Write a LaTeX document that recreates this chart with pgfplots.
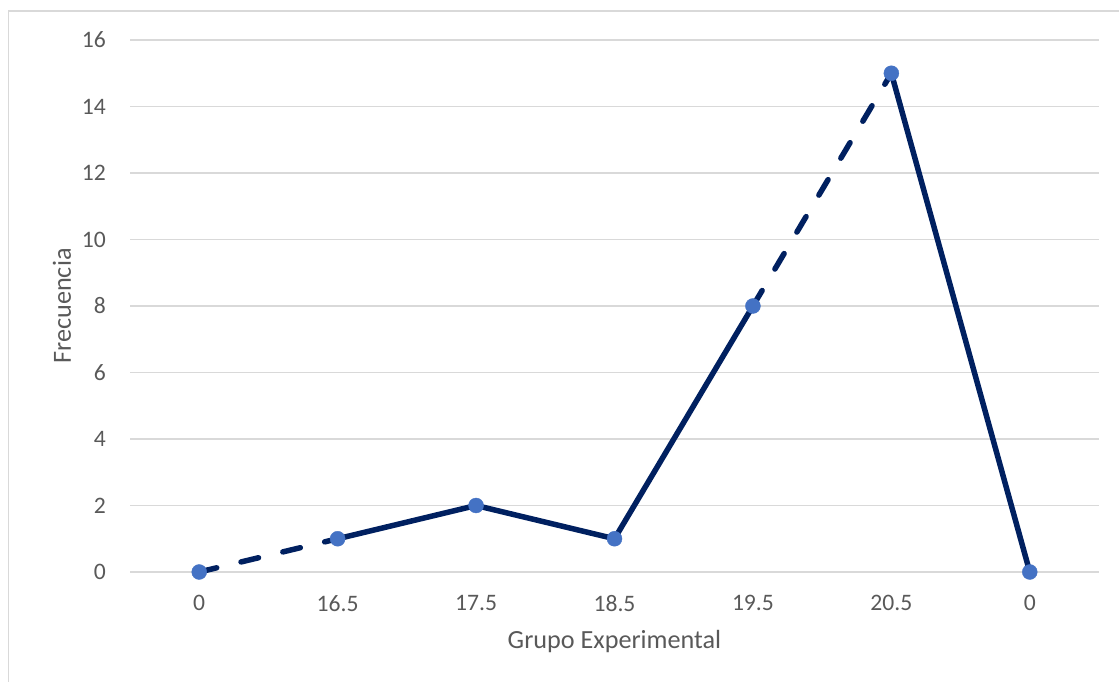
\documentclass[border=0pt]{standalone}
\usepackage{pgfplots}
\pgfplotsset{compat=1.18}
\usepackage{fontspec}
\setmainfont{Carlito}

\definecolor{linea}{HTML}{002060}
\definecolor{punto}{HTML}{4472C4}
\definecolor{rejilla}{HTML}{D9D9D9}
\definecolor{texto}{HTML}{595959}

\begin{document}
\begin{tikzpicture}
\path[use as bounding box] (0,0) rectangle (1119bp,682bp);
\draw[rejilla, line width=1.3bp] (8.5bp,0) -- (8.5bp,671bp) -- (1119bp,671bp);
\begin{axis}[
  at={(130bp,110bp)}, anchor=south west,
  width=969bp, height=532bp, scale only axis,
  xmin=-0.5, xmax=6.5,
  ymin=0, ymax=16,
  ytick={0,2,...,16},
  xtick={0,...,6},
  xticklabels={0,16.5,17.5,18.5,19.5,20.5,0},
  axis line style={draw=none},
  major tick length=0pt,
  ymajorgrids,
  grid style={rejilla, line width=1.3bp},
  /pgf/number format/assume math mode=true,
  tick label style={font=\fontsize{23.7}{28}\selectfont, text=texto, inner sep=0pt},
  yticklabel style={anchor=east, xshift=-24bp},
  xticklabel style={anchor=north, yshift=-23bp},
  label style={font=\fontsize{26.3}{31}\selectfont, text=texto},
  xlabel={Grupo Experimental},
  ylabel={Frecuencia},
  xlabel style={at={(axis description cs:0.5,-0.131)}, anchor=center},
  ylabel style={at={(axis description cs:-0.0702,0.5)}, anchor=center, rotate=0},
  clip=false,
]
% tramos discontinuos
\addplot[linea, line width=5.5bp, line cap=round, dash pattern=on 18bp off 25bp]
  coordinates {(0,0) (1,1)};
\addplot[linea, line width=5.5bp, line cap=round, dash pattern=on 18bp off 25bp]
  coordinates {(4,8) (5,15)};
% tramos continuos
\addplot[linea, line width=5.5bp, line cap=round, line join=round]
  coordinates {(1,1) (2,2) (3,1) (4,8)};
\addplot[linea, line width=5.5bp, line cap=round, line join=round]
  coordinates {(5,15) (6,0)};
% marcadores
\addplot[only marks, mark=*, mark size=7.5bp, mark options={fill=punto, draw=punto}]
  coordinates {(0,0) (1,1) (2,2) (3,1) (4,8) (5,15) (6,0)};
\end{axis}
\end{tikzpicture}
\end{document}
